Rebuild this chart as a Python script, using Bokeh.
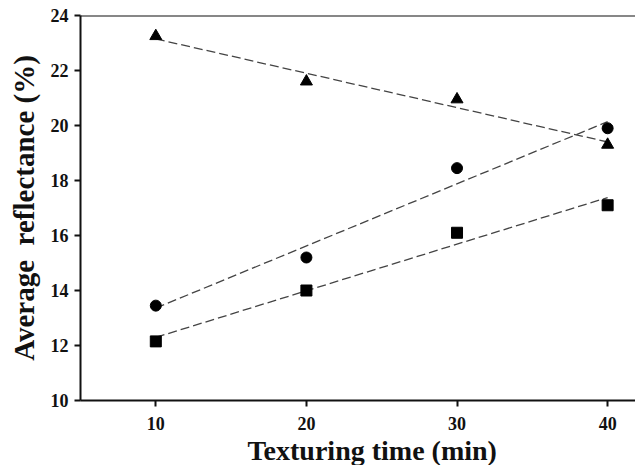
import numpy as np
from bokeh.plotting import figure
from bokeh.models import Span, Range1d, FixedTicker, Title
from bokeh.embed import file_html
from bokeh.resources import INLINE

time_min = [10, 20, 30, 40]
triangle_vals = [23.25, 21.6, 20.95, 19.3]
circle_vals = [13.45, 15.2, 18.45, 19.9]
square_vals = [12.15, 14.0, 16.1, 17.1]
x_ticks = [10, 20, 30, 40]
y_ticks = [10, 12, 14, 16, 18, 20, 22, 24]

FONT = "Liberation Serif"

p = figure(width=635, height=465, output_backend="svg", toolbar_location=None,
           x_range=Range1d(5, 41.85), y_range=Range1d(10, 24),
           min_border_left=80, min_border_right=0, min_border_top=15, min_border_bottom=0)
p.outline_line_color = None
p.grid.visible = False
p.background_fill_color = "white"

for ax in (p.xaxis[0], p.yaxis[0]):
    ax.axis_line_width = 2
    ax.axis_line_color = "#111111"
    ax.major_tick_line_width = 2
    ax.major_tick_line_color = "#111111"
    ax.major_tick_out = 6
    ax.major_tick_in = 0
    ax.minor_tick_line_color = None
    ax.major_label_text_font = FONT
    ax.major_label_text_font_style = "bold"
    ax.major_label_text_font_size = "18px"
    ax.major_label_text_color = "#111111"
    ax.axis_label_text_font = FONT
    ax.axis_label_text_font_style = "bold"
    ax.axis_label_text_color = "#111111"

p.yaxis.axis_label_text_font_size = "29px"
p.xaxis.ticker = FixedTicker(ticks=x_ticks)
p.yaxis.ticker = FixedTicker(ticks=y_ticks)
p.yaxis.axis_label = "Average\u2002reflectance (%)"
p.xaxis.major_label_standoff = 10
p.yaxis.major_label_standoff = 6
p.yaxis.axis_label_standoff = 8

# x-axis title, slightly right of the frame centre as in the reference
p.add_layout(Title(text="Texturing time (min)", align="left", offset=167,
                   text_font=FONT, text_font_style="bold", text_font_size="28px",
                   text_color="#111111", standoff=0), "below")

p.add_layout(Span(location=24, dimension="width", line_color="#111111", line_width=2))

xs = np.array(time_min, dtype=float)
for vals, marker in ((triangle_vals, "triangle"), (circle_vals, "circle"), (square_vals, "square")):
    k, b = np.polyfit(xs, np.array(vals), 1)
    p.line([xs[0], xs[-1]], [k * xs[0] + b, k * xs[-1] + b], line_color="#444444",
           line_width=1.3, line_dash="9 4")
    p.scatter(time_min, vals, marker=marker, size=11 if marker != "triangle" else 12,
              fill_color="black", line_color="black")

open("out.html", "w").write(file_html(p, INLINE))
